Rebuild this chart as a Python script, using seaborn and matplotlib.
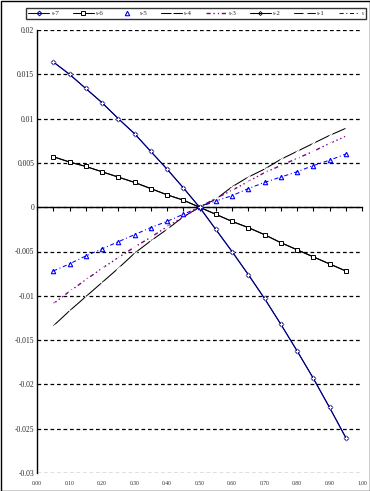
import matplotlib
matplotlib.use("Agg")
import matplotlib.pyplot as plt
import seaborn as sns
import numpy as np
from matplotlib.patches import Rectangle

# x positions (0.05 .. 0.95)
x_vals = [0.05, 0.10, 0.15, 0.20, 0.25, 0.30, 0.35, 0.40, 0.45, 0.50,
          0.55, 0.60, 0.65, 0.70, 0.75, 0.80, 0.85, 0.90, 0.95]

# series
s7 = [0.0164, 0.0150, 0.0134, 0.0118, 0.0100, 0.0083, 0.0063, 0.0043, 0.0022, 0.0,
      -0.0025, -0.0050, -0.0076, -0.0103, -0.0132, -0.0162, -0.0193, -0.0226, -0.0260]
s6 = [0.0057, 0.0051, 0.0046, 0.0040, 0.0034, 0.0028, 0.0021, 0.0014, 0.0008, 0.0,
      -0.0008, -0.0016, -0.0023, -0.0031, -0.0040, -0.0048, -0.0056, -0.0064, -0.0072]
s5 = [-0.0072, -0.0064, -0.0055, -0.0047, -0.0039, -0.0031, -0.0023, -0.0016, -0.0008, 0.0,
      0.0007, 0.0013, 0.0021, 0.0028, 0.0034, 0.0040, 0.0047, 0.0053, 0.0060]
s4 = [-0.0134, -0.0117, -0.0101, -0.0085, -0.0069, -0.0052, -0.0038, -0.0025, -0.0011, 0.0,
      0.0009, 0.0023, 0.0034, 0.0043, 0.0054, 0.0063, 0.0072, 0.0081, 0.0089]
s3 = [-0.0109, -0.0095, -0.0082, -0.0069, -0.0057, -0.0045, -0.0034, -0.0022, -0.0011, 0.0,
      0.0010, 0.0019, 0.0029, 0.0039, 0.0047, 0.0055, 0.0063, 0.0072, 0.0080]
s2 = s6
s1 = s7
s0 = s5

y_ticks = [0.02, 0.015, 0.01, 0.005, 0.0, -0.005, -0.01, -0.015, -0.02, -0.025, -0.03]
y_labels = ["0.02", "0.015", "0.01", "0.005", "0", "-0.005", "-0.01", "-0.015",
            "-0.02", "-0.025", "-0.03"]
x_major = [0.0, 0.1, 0.2, 0.3, 0.4, 0.5, 0.6, 0.7, 0.8, 0.9, 1.0]
x_labels = ["0.00", "0.10", "0.20", "0.30", "0.40", "0.50", "0.60", "0.70",
            "0.80", "0.90", "1.00"]

sns.set_style("white")
plt.rcParams['font.family'] = ['Liberation Serif', 'DejaVu Serif']

W, H = 370, 491
fig = plt.figure(figsize=(W / 100, H / 100), dpi=100)
ax = fig.add_axes([37 / W, 1 - 473 / H, (362 - 37) / W, (473 - 30) / H])

navy = "#000080"
blue = "#0000FF"
purple = "#800080"
lw = 0.75

h7 = sns.lineplot(x=x_vals, y=s7, ax=ax, color=navy, lw=lw, marker="D", markersize=2.4,
                  mfc="none", mec=navy, mew=0.7, label="ι-7", zorder=4).lines[-1]
h2 = sns.lineplot(x=x_vals, y=s2, ax=ax, color="black", lw=lw, marker="D", markersize=2.0,
                  mfc="none", mec="black", mew=0.6, label="ι-2", zorder=2).lines[-1]
h6 = sns.lineplot(x=x_vals, y=s6, ax=ax, color="black", lw=lw, marker="s", markersize=2.8,
                  mfc="white", mec="black", mew=0.7, label="ι-6", zorder=3).lines[-1]
h0 = sns.lineplot(x=x_vals, y=s0, ax=ax, color=blue, lw=lw, linestyle=(0, (4, 2.5, 1, 2.5)),
                  label="ι", zorder=3).lines[-1]
h5 = sns.lineplot(x=x_vals, y=s5, ax=ax, color=blue, linestyle="", marker="^", markersize=3.2,
                  mfc="none", mec=blue, mew=0.8, label="ι-5", zorder=4).lines[-1]
h4 = sns.lineplot(x=x_vals, y=s4, ax=ax, color="black", lw=lw, marker="x", markersize=3,
                  mew=0.7, label="ι-4", zorder=3).lines[-1]
h3 = sns.lineplot(x=x_vals, y=s3, ax=ax, color=purple, lw=1.0, linestyle=(0, (3, 2, 1, 2, 1, 2)),
                  marker="x", markersize=3, mew=0.9, label="ι-3", zorder=3).lines[-1]
h1 = sns.lineplot(x=x_vals, y=s1, ax=ax, color=navy, lw=lw, marker="+", markersize=3.5,
                  mew=0.8, label="ι-1", zorder=5).lines[-1]
ax.get_legend().remove()

ax.set_xlim(0, 1)
ax.set_ylim(-0.03, 0.02)

# y axis
ax.set_yticks(y_ticks)
ax.set_yticklabels(y_labels)
ax.tick_params(axis="y", length=0, pad=2, labelsize=5.5)
ax.yaxis.grid(True, color="black", lw=0.9, linestyle=(0, (3, 2.2)))
ax.set_axisbelow(True)

# x axis line crossing at zero
for side in ["top", "right"]:
    ax.spines[side].set_visible(False)
ax.spines["left"].set_color("black")
ax.spines["left"].set_linewidth(1)
ax.spines["bottom"].set_position(("data", 0))
ax.spines["bottom"].set_color("black")
ax.spines["bottom"].set_linewidth(1)
ax.spines["bottom"].set_zorder(1)
ax.set_xticks(np.linspace(0, 1, 21))
ax.tick_params(axis="x", direction="out", length=3, width=0.8, color="black",
               labelbottom=False, bottom=True)

sec = ax.secondary_xaxis("bottom")
sec.set_xticks(x_major)
sec.set_xticklabels(x_labels)
sec.tick_params(length=0, labelsize=4, pad=6)
sec.spines["bottom"].set_visible(False)

# legend
handles = [h7, h6, h5, h4, h3, h2, h1, h0]
labels = ["ι-7", "ι-6", "ι-5", "ι-4", "ι-3", "ι-2", "ι-1", "ι"]
leg = fig.legend(handles, labels, ncol=8, loc="lower left",
                 bbox_to_anchor=(26 / W, 1 - 18.5 / H, (366 - 26) / W, 15 / H),
                 mode="expand", fontsize=5, frameon=True, fancybox=False,
                 handlelength=3.0, handletextpad=0.3, columnspacing=0.6,
                 borderpad=0.35, borderaxespad=0)
leg.get_frame().set_edgecolor("black")
leg.get_frame().set_linewidth(1)

# outer border
fig.patches.append(Rectangle((0.5 / W, 0.5 / H), 1 - 1 / W, 1 - 1 / H, transform=fig.transFigure,
                             fill=False, edgecolor="black", lw=1))

fig.savefig("out.png", dpi=100)
